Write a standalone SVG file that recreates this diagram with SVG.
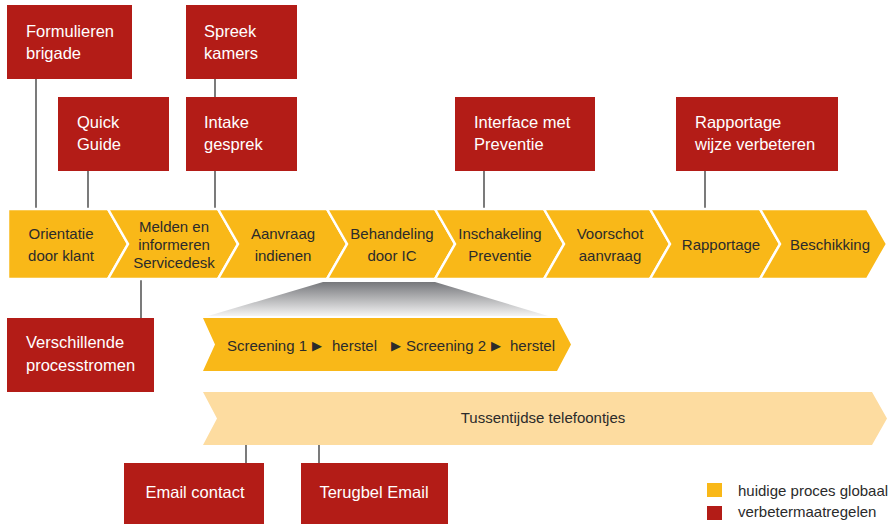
<svg xmlns="http://www.w3.org/2000/svg" width="895" height="524" viewBox="0 0 895 524">
<defs>
<linearGradient id="grey" x1="0" y1="0" x2="0" y2="1">
<stop offset="0" stop-color="#76777b"/>
<stop offset="1" stop-color="#f4f4f4"/>
</linearGradient>
<style>
.box{fill:#b31c17}
.wt{fill:#ffffff;font-family:"Liberation Sans",Arial,sans-serif;font-size:16.5px}
.ch{fill:#f9b818;stroke:#ffffff;stroke-width:2.5}
.dt{fill:#2b2b2b;font-family:"Liberation Sans",Arial,sans-serif;font-size:15px}
.c{text-anchor:middle}
.ln{stroke:#333333;stroke-width:1.3;fill:none}
.tri{fill:#2b2b2b;font-family:"DejaVu Sans",sans-serif;font-size:13px}
</style>
</defs>
<rect width="895" height="524" fill="#ffffff"/>

<g id="connectors">
<line class="ln" x1="36" y1="79" x2="36" y2="218"/>
<line class="ln" x1="88" y1="171" x2="88" y2="218"/>
<line class="ln" x1="215" y1="79" x2="215" y2="97"/>
<line class="ln" x1="215" y1="171" x2="215" y2="218"/>
<line class="ln" x1="484" y1="171" x2="484" y2="218"/>
<line class="ln" x1="705" y1="171" x2="705" y2="218"/>
<line class="ln" x1="141" y1="270" x2="141" y2="318"/>
<line class="ln" x1="246" y1="419" x2="246" y2="463"/>
<line class="ln" x1="319" y1="419" x2="319" y2="463"/>
</g>

<g id="process">
<g id="p1"><polygon class="ch" points="8,209 108,209 128,244 108,279 8,279"/>
<text class="dt c" x="61" y="239">Orientatie</text><text class="dt c" x="61" y="261">door klant</text></g>
<g id="p2"><polygon class="ch" points="108,209 218,209 238,244 218,279 108,279 128,244"/>
<text class="dt c" x="174" y="232">Melden en</text><text class="dt c" x="174" y="250">informeren</text><text class="dt c" x="174" y="268">Servicedesk</text></g>
<g id="p3"><polygon class="ch" points="218,209 327,209 347,244 327,279 218,279 238,244"/>
<text class="dt c" x="283" y="239">Aanvraag</text><text class="dt c" x="283" y="261">indienen</text></g>
<g id="p4"><polygon class="ch" points="327,209 435,209 455,244 435,279 327,279 347,244"/>
<text class="dt c" x="392" y="239">Behandeling</text><text class="dt c" x="392" y="261">door IC</text></g>
<g id="p5"><polygon class="ch" points="435,209 544,209 564,244 544,279 435,279 455,244"/>
<text class="dt c" x="500" y="239">Inschakeling</text><text class="dt c" x="500" y="261">Preventie</text></g>
<g id="p6"><polygon class="ch" points="544,209 650,209 670,244 650,279 544,279 564,244"/>
<text class="dt c" x="610" y="239">Voorschot</text><text class="dt c" x="610" y="261">aanvraag</text></g>
<g id="p7"><polygon class="ch" points="650,209 760,209 780,244 760,279 650,279 670,244"/>
<text class="dt c" x="721" y="250">Rapportage</text></g>
<g id="p8"><polygon class="ch" points="760,209 867,209 887,244 867,279 760,279 780,244"/>
<text class="dt c" x="830" y="250">Beschikking</text></g>
</g>

<g id="zoom-trapezoid"><polygon points="323,282 435,282 548,316 208,316" fill="url(#grey)"/></g>

<g id="screening">
<polygon points="203,318 557,318 571,344.5 557,371 203,371 215,344.5" fill="#f9b818"/>
<text class="dt" x="227" y="351">Screening 1</text>
<text class="tri" x="312" y="350">▶</text>
<text class="dt" x="332" y="351">herstel</text>
<text class="tri" x="391" y="350">▶</text>
<text class="dt" x="406" y="351">Screening 2</text>
<text class="tri" x="491" y="350">▶</text>
<text class="dt" x="510" y="351">herstel</text>
</g>

<g id="telefoontjes">
<polygon points="203,392 872,392 887,418.5 872,445 203,445 217,418.5" fill="#fddca0"/>
<text class="dt c" x="543" y="423">Tussentijdse telefoontjes</text>
</g>

<g id="formulieren"><rect class="box" x="7" y="5" width="125" height="74"/>
<text class="wt" x="26" y="37">Formulieren</text><text class="wt" x="26" y="59">brigade</text></g>
<g id="quickguide"><rect class="box" x="58" y="97" width="111" height="74"/>
<text class="wt" x="77" y="128">Quick</text><text class="wt" x="77" y="150">Guide</text></g>
<g id="spreekkamers"><rect class="box" x="186" y="5" width="111" height="74"/>
<text class="wt" x="204" y="37">Spreek</text><text class="wt" x="204" y="59">kamers</text></g>
<g id="intake"><rect class="box" x="186" y="97" width="111" height="74"/>
<text class="wt" x="204" y="128">Intake</text><text class="wt" x="204" y="150">gesprek</text></g>
<g id="interface"><rect class="box" x="455" y="97" width="140" height="74"/>
<text class="wt" x="474" y="128">Interface met</text><text class="wt" x="474" y="150">Preventie</text></g>
<g id="rapportage"><rect class="box" x="676" y="97" width="162" height="74"/>
<text class="wt" x="695" y="128">Rapportage</text><text class="wt" x="695" y="150">wijze verbeteren</text></g>
<g id="verschillende"><rect class="box" x="7" y="318" width="147" height="74"/>
<text class="wt" x="26" y="348">Verschillende</text><text class="wt" x="26" y="371">processtromen</text></g>
<g id="emailcontact"><rect class="box" x="124" y="463" width="140" height="61"/>
<text class="wt c" x="195" y="498">Email contact</text></g>
<g id="terugbel"><rect class="box" x="301" y="463" width="147" height="61"/>
<text class="wt c" x="374" y="498">Terugbel Email</text></g>

<g id="legend">
<rect x="707" y="483" width="15" height="14" fill="#f9b818"/>
<text class="dt" x="738" y="496">huidige proces globaal</text>
<rect x="707" y="506" width="15" height="14" fill="#b31c17"/>
<text class="dt" x="738" y="517">verbetermaatregelen</text>
</g>
</svg>
